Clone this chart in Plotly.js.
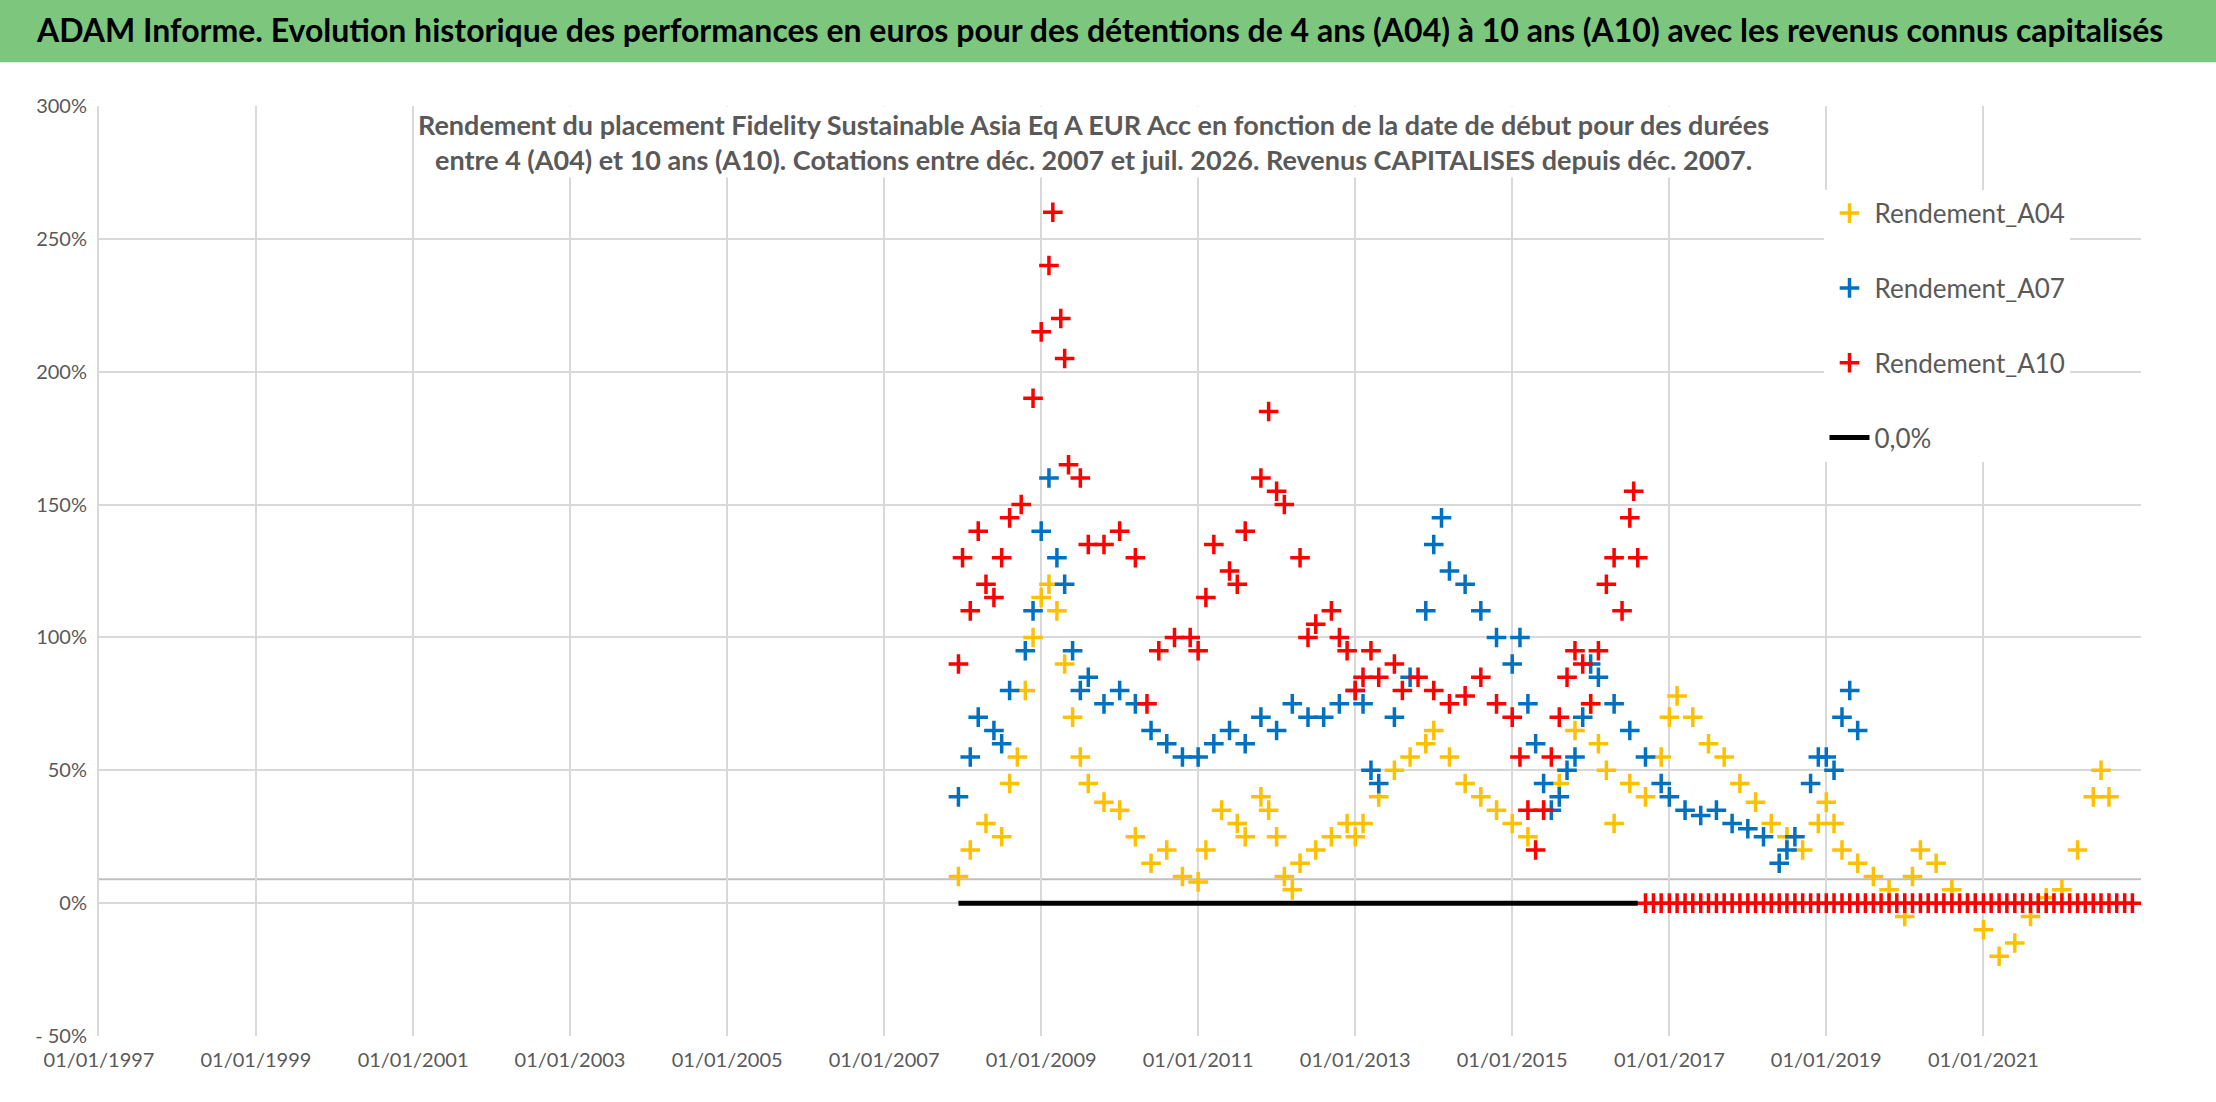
<!DOCTYPE html>
<html>
<head>
<meta charset="utf-8">
<script src="https://cdn.plot.ly/plotly-3.0.1.min.js"></script>
<style>
  body { margin: 0; background: #fff; }
  #chart { width: 2216px; height: 1102px; }
</style>
</head>
<body>
<div id="chart"></div>
<script>
// Values: dates as decimal years, returns in %
const a04Years = [2007.95, 2008.1, 2008.3, 2008.5, 2008.6, 2008.7, 2008.8, 2008.9, 2009.0, 2009.1, 2009.2, 2009.3, 2009.4, 2009.5, 2009.6, 2009.8, 2010.0, 2010.2, 2010.4, 2010.6, 2010.8, 2011.0, 2011.1, 2011.3, 2011.5, 2011.6, 2011.8, 2011.9, 2012.0, 2012.1, 2012.2, 2012.3, 2012.5, 2012.7, 2012.9, 2013.0, 2013.1, 2013.3, 2013.5, 2013.7, 2013.9, 2014.0, 2014.2, 2014.4, 2014.6, 2014.8, 2015.0, 2015.2, 2015.4, 2015.6, 2015.8, 2016.0, 2016.1, 2016.2, 2016.3, 2016.5, 2016.7, 2016.9, 2017.0, 2017.1, 2017.3, 2017.5, 2017.7, 2017.9, 2018.1, 2018.3, 2018.5, 2018.7, 2018.9, 2019.0, 2019.1, 2019.2, 2019.4, 2019.6, 2019.8, 2020.0, 2020.1, 2020.2, 2020.4, 2020.6, 2020.8, 2021.0, 2021.2, 2021.4, 2021.6, 2021.8, 2022.0, 2022.2, 2022.4, 2022.5, 2022.6];
const a04Values = [10, 20, 30, 25, 45, 55, 80, 100, 115, 120, 110, 90, 70, 55, 45, 38, 35, 25, 15, 20, 10, 8, 20, 35, 30, 25, 40, 35, 25, 10, 5, 15, 20, 25, 30, 25, 30, 40, 50, 55, 60, 65, 55, 45, 40, 35, 30, 25, 35, 45, 65, 75, 60, 50, 30, 45, 40, 55, 70, 78, 70, 60, 55, 45, 38, 30, 25, 20, 30, 38, 30, 20, 15, 10, 5, -5, 10, 20, 15, 5, 0, -10, -20, -15, -5, 2, 5, 20, 40, 50, 40];

const a07Years = [2007.95, 2008.1, 2008.2, 2008.4, 2008.5, 2008.6, 2008.8, 2008.9, 2009.0, 2009.1, 2009.2, 2009.3, 2009.4, 2009.5, 2009.6, 2009.8, 2010.0, 2010.2, 2010.4, 2010.6, 2010.8, 2011.0, 2011.2, 2011.4, 2011.6, 2011.8, 2012.0, 2012.2, 2012.4, 2012.6, 2012.8, 2013.0, 2013.1, 2013.2, 2013.3, 2013.5, 2013.7, 2013.9, 2014.0, 2014.1, 2014.2, 2014.4, 2014.6, 2014.8, 2015.0, 2015.1, 2015.2, 2015.3, 2015.4, 2015.5, 2015.6, 2015.7, 2015.8, 2015.9, 2016.0, 2016.1, 2016.3, 2016.5, 2016.7, 2016.9, 2017.0, 2017.2, 2017.4, 2017.6, 2017.8, 2018.0, 2018.2, 2018.4, 2018.5, 2018.6, 2018.8, 2018.9, 2019.0, 2019.1, 2019.2, 2019.3, 2019.4];
const a07Values = [40, 55, 70, 65, 60, 80, 95, 110, 140, 160, 130, 120, 95, 80, 85, 75, 80, 75, 65, 60, 55, 55, 60, 65, 60, 70, 65, 75, 70, 70, 75, 80, 75, 50, 45, 70, 85, 110, 135, 145, 125, 120, 110, 100, 90, 100, 75, 60, 45, 35, 40, 50, 55, 70, 90, 85, 75, 65, 55, 45, 40, 35, 33, 35, 30, 28, 25, 15, 20, 25, 45, 55, 55, 50, 70, 80, 65];

const a10Years = [2007.95, 2008.0, 2008.1, 2008.2, 2008.3, 2008.4, 2008.5, 2008.6, 2008.75, 2008.9, 2009.0, 2009.1, 2009.15, 2009.25, 2009.3, 2009.35, 2009.5, 2009.6, 2009.8, 2010.0, 2010.2, 2010.35, 2010.5, 2010.7, 2010.9, 2011.0, 2011.1, 2011.2, 2011.4, 2011.5, 2011.6, 2011.8, 2011.9, 2012.0, 2012.1, 2012.3, 2012.4, 2012.5, 2012.7, 2012.8, 2012.9, 2013.0, 2013.1, 2013.2, 2013.3, 2013.5, 2013.6, 2013.8, 2014.0, 2014.2, 2014.4, 2014.6, 2014.8, 2015.0, 2015.1, 2015.2, 2015.3, 2015.4, 2015.5, 2015.6, 2015.7, 2015.8, 2015.9, 2016.0, 2016.1, 2016.2, 2016.3, 2016.4, 2016.5, 2016.55, 2016.6,
  2016.7, 2016.8, 2016.9, 2017.0, 2017.1, 2017.2, 2017.3, 2017.4, 2017.5, 2017.6, 2017.7, 2017.8, 2017.9, 2018.0, 2018.1, 2018.2, 2018.3, 2018.4, 2018.5, 2018.6, 2018.7, 2018.8, 2018.9, 2019.0, 2019.1, 2019.2, 2019.3, 2019.4, 2019.5, 2019.6, 2019.7, 2019.8, 2019.9, 2020.0, 2020.1, 2020.2, 2020.3, 2020.4, 2020.5, 2020.6, 2020.7, 2020.8, 2020.9, 2021.0, 2021.1, 2021.2, 2021.3, 2021.4, 2021.5, 2021.6, 2021.7, 2021.8, 2021.9, 2022.0, 2022.1, 2022.2, 2022.3, 2022.4, 2022.5, 2022.6, 2022.7, 2022.8, 2022.9, 2023.0];
const a10Values = [90, 130, 110, 140, 120, 115, 130, 145, 150, 190, 215, 240, 260, 220, 205, 165, 160, 135, 135, 140, 130, 75, 95, 100, 100, 95, 115, 135, 125, 120, 140, 160, 185, 155, 150, 130, 100, 105, 110, 100, 95, 80, 85, 95, 85, 90, 80, 85, 80, 75, 78, 85, 75, 70, 55, 35, 20, 35, 55, 70, 85, 95, 90, 75, 95, 120, 130, 110, 145, 155, 130,
  0, 0, 0, 0, 0, 0, 0, 0, 0, 0, 0, 0, 0, 0, 0, 0, 0, 0, 0, 0, 0, 0, 0, 0, 0, 0, 0, 0, 0, 0, 0, 0, 0, 0, 0, 0, 0, 0, 0, 0, 0, 0, 0, 0, 0, 0, 0, 0, 0, 0, 0, 0, 0, 0, 0, 0, 0, 0, 0, 0, 0, 0, 0];

const zeroYears = [2007.95, 2016.6];
const zeroValues = [0, 0];

const xTickYears = [1997, 1999, 2001, 2003, 2005, 2007, 2009, 2011, 2013, 2015, 2017, 2019, 2021];
const yTickVals = [-50, 0, 50, 100, 150, 200, 250, 300];
const yTickText = ['- 50%', '0%', '50%', '100%', '150%', '200%', '250%', '300%'];

function toDate(y) {
    const ms = Date.UTC(Math.floor(y), 0, 1) + (y - Math.floor(y)) * 365.25 * 864e5;
    return new Date(ms).toISOString().slice(0, 10);
}

const FONT = 'Lato, "Open Sans", sans-serif';
const GREY = '#595959';

function markerTrace(years, values, name, color) {
    return {
        x: years.map(toDate),
        y: values,
        name: name,
        legendgroup: name,
        type: 'scatter',
        mode: 'markers',
        marker: { symbol: 'cross-thin', size: 14, line: { color: color, width: 3.5 }, color: color },
    };
}

const traces = [
    markerTrace(a04Years, a04Values, 'Rendement_A04', '#FFC000'),
    markerTrace(a07Years, a07Values, 'Rendement_A07', '#0070C0'),
    markerTrace(a10Years, a10Values, 'Rendement_A10', '#FF0000'),
    {
        x: zeroYears.map(toDate),
        y: zeroValues,
        name: '0,0%',
        legendgroup: 'zero',
        type: 'scatter',
        mode: 'lines',
        line: { color: '#000000', width: 5 },
    },
];

const layout = {
    width: 2216,
    height: 1102,
    margin: { l: 99, r: 75, t: 106, b: 66 },
    paper_bgcolor: '#ffffff',
    plot_bgcolor: '#ffffff',
    font: { family: FONT, color: GREY, size: 20 },
    showlegend: true,
    legend: {
        x: 0.845, y: 0.91, xanchor: 'left', yanchor: 'top',
        bgcolor: '#ffffff',
        font: { family: FONT, size: 26, color: GREY },
        tracegroupgap: 38,
        itemwidth: 40,
    },
    xaxis: {
        type: 'date',
        range: ['1997-01-01', '2023-01-04'],
        tickvals: xTickYears.map(y => `${y}-01-01`),
        ticktext: xTickYears.map(y => `01/01/${y}`),
        showgrid: true,
        gridcolor: '#d9d9d9',
        gridwidth: 2,
        zeroline: false,
        showline: false,
        ticklabelstandoff: 10,
        tickfont: { family: FONT, size: 20, color: GREY },
    },
    yaxis: {
        range: [-50, 300],
        tickvals: yTickVals,
        ticktext: yTickText,
        showgrid: true,
        gridcolor: '#d9d9d9',
        gridwidth: 2,
        zeroline: false,
        showline: true,
        linecolor: '#d9d9d9',
        linewidth: 2,
        ticks: '',
        ticklen: 0,
        ticklabelstandoff: 6,
        tickfont: { family: FONT, size: 20, color: GREY },
    },
    shapes: [
        { type: 'rect', xref: 'paper', yref: 'paper', x0: -0.05, x1: 1.04, y0: 1.047, y1: 1.12,
          fillcolor: '#7dc67d', line: { width: 0 }, layer: 'below' },
        { type: 'line', xref: 'paper', yref: 'y', x0: 0, x1: 1, y0: 9, y1: 9,
          line: { color: '#bfbfbf', width: 2 }, layer: 'below' },
    ],
    annotations: [
        { xref: 'paper', yref: 'paper', x: 0.49, y: 1.082, xanchor: 'center', yanchor: 'middle', showarrow: false,
          text: '<b>ADAM Informe. Evolution historique des performances en euros pour des détentions de 4 ans (A04) à 10 ans (A10) avec les revenus connus capitalisés</b>',
          font: { family: FONT, size: 32, color: '#000000' } },
        { xref: 'paper', yref: 'paper', x: 0.487, y: 1.0, xanchor: 'center', yanchor: 'top', showarrow: false,
          bgcolor: '#ffffff',
          text: '<b>Rendement du placement Fidelity Sustainable Asia Eq A EUR Acc en fonction de la date de début pour des durées<br>entre 4 (A04) et 10 ans (A10). Cotations entre déc. 2007 et juil. 2026. Revenus CAPITALISES depuis déc. 2007.</b>',
          font: { family: FONT, size: 27, color: GREY } },
    ],
};

Plotly.newPlot('chart', traces, layout, { displayModeBar: false, staticPlot: true });
</script>
</body>
</html>
